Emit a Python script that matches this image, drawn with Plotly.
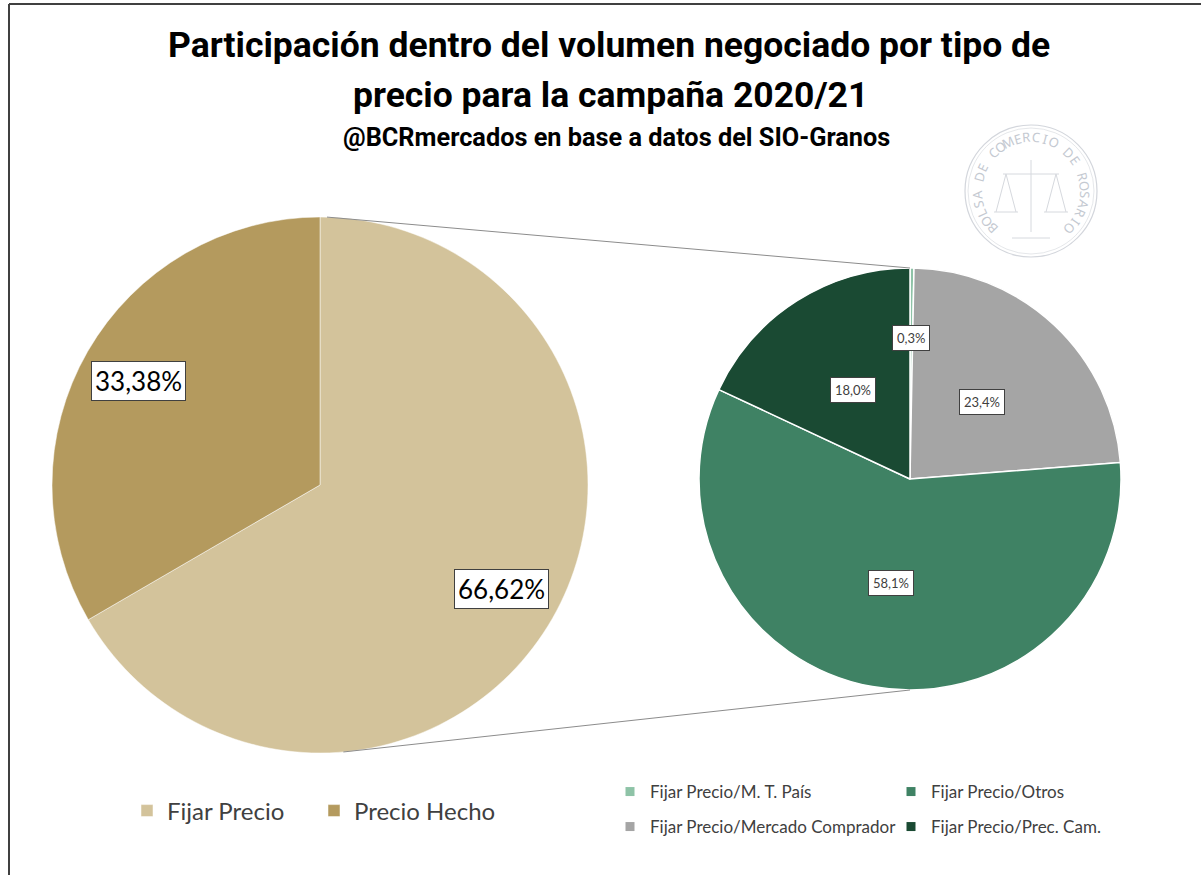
import math
import plotly.graph_objects as go

W, H = 1201, 875

# ---------------- data ----------------
main_labels = ["Fijar Precio", "Precio Hecho"]
main_values = [66.62, 33.38]
main_colors = ["#D3C39B", "#B49A5E"]

sub_labels = ["Fijar Precio/M. T. País", "Fijar Precio/Mercado Comprador",
              "Fijar Precio/Otros", "Fijar Precio/Prec. Cam."]
sub_values = [0.3, 23.4, 58.1, 18.0]
sub_colors = ["#8EC3A7", "#A5A5A5", "#3F8264", "#1A4A33"]

# legend layout order (two rows)
legend_row1 = ["Fijar Precio/M. T. País", "Fijar Precio/Otros"]
legend_row2 = ["Fijar Precio/Mercado Comprador", "Fijar Precio/Prec. Cam."]

title_1 = "Participación dentro del volumen negociado por tipo de"
title_2 = "precio para la campaña 2020/21"
subtitle = "@BCRmercados en base a datos del SIO-Granos"
seal_text = "BOLSA DE COMERCIO DE ROSARIO"

# ---------------- geometry helpers ----------------
def px(x):
    return x / W

def py(y):
    return 1 - y / H

L_CX, L_CY, L_R = 320, 485, 268
R_CX, R_CY, R_R = 910, 479, 211

def circ(cx, cy, r, ang):
    a = math.radians(ang)
    return cx + r * math.sin(a), cy - r * math.cos(a)

fig = go.Figure()

fig.add_trace(go.Pie(
    labels=main_labels, values=main_values, sort=False, direction="clockwise",
    rotation=0, marker=dict(colors=main_colors, line=dict(color="white", width=0.5)),
    textinfo="none", hoverinfo="label+percent",
    domain=dict(x=[px(L_CX - L_R), px(L_CX + L_R)], y=[py(L_CY + L_R), py(L_CY - L_R)]),
    legend="legend", showlegend=True,
))

fig.add_trace(go.Pie(
    labels=sub_labels, values=sub_values, sort=False, direction="clockwise",
    rotation=0, marker=dict(colors=sub_colors, line=dict(color="white", width=1.5)),
    textinfo="none", hoverinfo="label+percent", showlegend=False,
    domain=dict(x=[px(R_CX - R_R), px(R_CX + R_R)], y=[py(R_CY + R_R), py(R_CY - R_R)]),
))

# dummy traces for the right legend (two rows)
color_of = dict(zip(sub_labels, sub_colors))
for lg, row in (("legend2", legend_row1), ("legend3", legend_row2)):
    for name in row:
        fig.add_trace(go.Scatter(
            x=[None], y=[None], mode="markers", name=name, legend=lg,
            marker=dict(symbol="square", size=9, color=color_of[name]),
            showlegend=True, hoverinfo="skip",
        ))

annotations = []

def fmt(v, d):
    return f"{v:.{d}f}".replace(".", ",") + "%"

LFONT = "Lato, Open Sans, sans-serif"

# labels on the main pie
tot = sum(main_values)
cum = 0
for v in main_values:
    mid = (cum + v / 2) / tot * 360
    cum += v
    x, y = circ(L_CX, L_CY, L_R * 0.78, mid)
    annotations.append(dict(
        x=px(x), y=py(y), xref="paper", yref="paper", xanchor="center", yanchor="middle",
        text=fmt(v, 2), showarrow=False,
        font=dict(family=LFONT, size=26, color="#000000"),
        bgcolor="white", bordercolor="#404040", borderwidth=1, borderpad=3,
    ))

# labels on the secondary pie
sub_label_r = [0.67, 0.5, 0.5, 0.5]
tot = sum(sub_values)
cum = 0
for v, rf in zip(sub_values, sub_label_r):
    mid = (cum + v / 2) / tot * 360
    cum += v
    x, y = circ(R_CX, R_CY, R_R * rf, mid)
    annotations.append(dict(
        x=px(x), y=py(y), xref="paper", yref="paper", xanchor="center", yanchor="middle",
        text=fmt(v, 1), showarrow=False,
        font=dict(family=LFONT, size=13, color="#404040"),
        bgcolor="white", bordercolor="#404040", borderwidth=1, borderpad=4,
    ))

# titles
TFONT = "Roboto, sans-serif"
annotations += [
    dict(x=px(609), y=py(45), xref="paper", yref="paper", xanchor="center", yanchor="middle",
         text="<b>" + title_1 + "</b>", showarrow=False,
         font=dict(family=TFONT, size=35.5, color="#000000")),
    dict(x=px(610), y=py(95), xref="paper", yref="paper", xanchor="center", yanchor="middle",
         text="<b>" + title_2 + "</b>", showarrow=False,
         font=dict(family=TFONT, size=35.5, color="#000000")),
    dict(x=px(616), y=py(137), xref="paper", yref="paper", xanchor="center", yanchor="middle",
         text="<b>" + subtitle + "</b>", showarrow=False,
         font=dict(family=TFONT, size=25.3, color="#000000")),
]

# seal watermark letters
S_CX, S_CY, S_R = 1031, 191, 66
n = len(seal_text)
start, span = -134, 268
for i, ch in enumerate(seal_text):
    if ch == " ":
        continue
    ang = start + span * i / (n - 1)
    x, y = circ(S_CX, S_CY, 54, ang)
    annotations.append(dict(
        x=px(x), y=py(y), xref="paper", yref="paper", xanchor="center", yanchor="middle",
        text=ch, showarrow=False, textangle=ang,
        font=dict(family="Noto Sans, sans-serif", size=13, color="#C4C9D1"),
    ))

shapes = []
# frame
shapes.append(dict(type="line", xref="paper", yref="paper", x0=px(9), y0=py(4), x1=1, y1=py(4),
                   line=dict(color="#404040", width=2)))
shapes.append(dict(type="line", xref="paper", yref="paper", x0=px(9), y0=py(4), x1=px(9), y1=0,
                   line=dict(color="#404040", width=2)))
# connector lines
lx0, ly0 = circ(L_CX, L_CY, L_R, 1.5)
rx0, ry0 = circ(R_CX, R_CY, R_R, 0)
lx1, ly1 = circ(L_CX, L_CY, L_R, 175)
rx1, ry1 = circ(R_CX, R_CY, R_R, 180)
for a, b, c, d in ((lx0, ly0, rx0, ry0), (lx1, ly1, rx1, ry1)):
    shapes.append(dict(type="line", xref="paper", yref="paper", x0=px(a), y0=py(b),
                       x1=px(c), y1=py(d), line=dict(color="#8C8C8C", width=1)))
# seal rings
for r, w in ((S_R, 1.2), (S_R - 3, 0.6)):
    shapes.append(dict(type="circle", xref="paper", yref="paper",
                       x0=px(S_CX - r), x1=px(S_CX + r), y0=py(S_CY + r), y1=py(S_CY - r),
                       line=dict(color="#D3D6DC", width=w)))
# seal emblem (light sketch)
emb = [((1003, 174), (1059, 174)), ((1031, 160), (1031, 232)), ((1006, 174), (996, 212)),
       ((1006, 174), (1016, 212)), ((1056, 174), (1046, 212)), ((1056, 174), (1066, 212)),
       ((994, 212), (1018, 212)), ((1044, 212), (1068, 212)), ((1012, 238), (1050, 238))]
for (a, b), (c, d) in emb:
    shapes.append(dict(type="line", xref="paper", yref="paper", x0=px(a), y0=py(b),
                       x1=px(c), y1=py(d), line=dict(color="#D6D9DE", width=1)))

fig.update_layout(
    width=W, height=H, margin=dict(l=0, r=0, t=0, b=0),
    paper_bgcolor="white", plot_bgcolor="white",
    xaxis=dict(visible=False), yaxis=dict(visible=False),
    annotations=annotations, shapes=shapes,
    legend=dict(orientation="h", x=px(127), y=py(811), xanchor="left", yanchor="middle",
                font=dict(family=LFONT, size=24, color="#404040"),
                entrywidth=142, entrywidthmode="pixels", bgcolor="rgba(0,0,0,0)"),
    legend2=dict(orientation="h", x=px(610), y=py(792), xanchor="left", yanchor="middle",
                 font=dict(family=LFONT, size=17, color="#404040"),
                 entrywidth=236, entrywidthmode="pixels", bgcolor="rgba(0,0,0,0)"),
    legend3=dict(orientation="h", x=px(610), y=py(827), xanchor="left", yanchor="middle",
                 font=dict(family=LFONT, size=17, color="#404040"),
                 entrywidth=236, entrywidthmode="pixels", bgcolor="rgba(0,0,0,0)"),
    showlegend=True,
)

fig.write_html("out.html", config={"displayModeBar": False},
               post_script="document.body.style.margin='0px';")
